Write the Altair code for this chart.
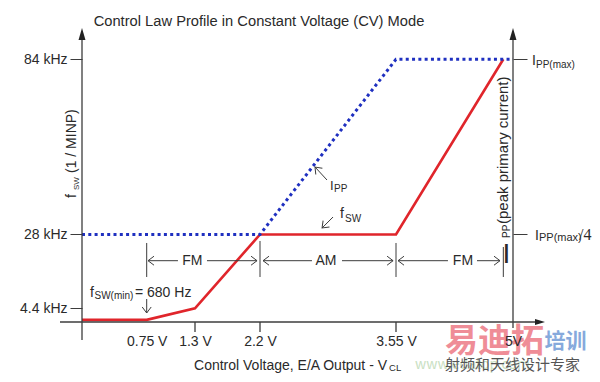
import altair as alt
import pandas as pd

# ---------------- data ----------------
volt_ticks = [0.75, 1.3, 2.2, 3.55, 5]          # V, x-axis labels
volt_tick_marks = [1.3, 2.2, 3.55]              # V, small ticks under the axis
freq_ticks = [4.4, 28, 84]                      # kHz, left axis
ipp_ticks = [28, 84]                            # right axis marks: IPP(max)/4, IPP(max)

fsw_v = [0, 0.75, 1.3, 2.2, 3.55, 4.88]         # fSW profile (red)
fsw_khz = [0.68, 0.68, 4.4, 28, 28, 84]
ipp_v = [0, 2.2, 3.55, 5]                       # IPP profile (blue dotted), frequency-equivalent units
ipp_khz = [28, 28, 84, 84]

region_names = ["FM", "AM", "FM"]
region_label_v = [1.27, 2.855, 4.38]
bracket_v = [0.75, 2.2, 3.55, 4.88]
bracket_top = [25.26, 25.9, 25.26, 23.98]
bracket_bottom = 14.39
bracket_arrow_khz = 19.6
shaft_from = [1.106, 1.466, 2.716, 3.014, 4.194, 4.554]
shaft_to = [0.765, 2.159, 2.23, 3.521, 3.575, 4.839]

# pointer arrows: (tail v, tail kHz) -> (head v, head kHz), head direction in degrees
pointer_from = [(0.75, 7.35), (2.865, 45.4), (2.925, 33.57)]
pointer_to = [(0.75, 2.88), (2.746, 49.56), (2.816, 30.05)]
pointer_angle = [90, 227, 135]

LINE = "#3c3c3c"
TXT = "#2a2a2a"
FONT = "Liberation Sans"
CJK = "Noto Sans CJK SC"

# ---------------- scales ----------------
xs = alt.Scale(domain=[0, 0.75, 1.3, 2.2, 3.55, 5], range=[0, 64.7, 113, 178, 314, 431],
               nice=False, zero=False)
ys = alt.Scale(domain=[0, 94], nice=False, zero=False)


def X(field="v"):
    return alt.X(f"{field}:Q", scale=xs)


def Y(field="f", axis=None):
    return alt.Y(f"{field}:Q", scale=ys, axis=axis)


# ---------------- profiles ----------------
red = alt.Chart(pd.DataFrame({"v": fsw_v, "f": fsw_khz})).mark_line(
    color="#e0252b", strokeWidth=2.6
).encode(
    x=alt.X("v:Q", scale=xs,
            axis=alt.Axis(values=volt_ticks, title=None, domain=False, grid=False, ticks=False,
                          labelPadding=12, labelFlush=False, labelOverlap=False, zindex=2,
                          labelExpr="datum.value == 5 ? '5V' : datum.value + ' V'")),
    y=Y(axis=alt.Axis(orient="left", values=freq_ticks, title=None, domain=False, grid=False,
                      tickSize=12, tickColor=LINE, labelPadding=3,
                      labelExpr="datum.value + ' kHz'")),
)

blue = alt.Chart(pd.DataFrame({"v": ipp_v, "f": ipp_khz})).mark_line(
    color="#1f30c0", strokeWidth=3, strokeDash=[3, 3.3]
).encode(
    x=X(),
    y=Y(axis=alt.Axis(orient="right", values=ipp_ticks, title=None, domain=False, grid=False,
                      labels=False, tickSize=14, tickColor=LINE)),
)

# ---------------- axis lines with arrow heads ----------------
axis_rows = [
    {"v": 0, "f": -5.75, "v2": 0, "f2": 90.2},
    {"v": 5, "f": -1.9, "v2": 5, "f2": 90.2},
    {"v": -0.255, "f": 0, "v2": 5.335, "f2": 0},
]
for tv in volt_tick_marks:
    axis_rows.append({"v": tv, "f": 0, "v2": tv, "f2": -3.2})
axes_rule = alt.Chart(pd.DataFrame(axis_rows)).mark_rule(color=LINE, strokeWidth=1.3).encode(
    x=X(), y=Y(), x2="v2:Q", y2="f2:Q")

axis_heads = pd.DataFrame({"v": [0, 5, 5.335], "f": [92.1, 92.1, 0],
                           "a": [270, 270, 0], "s": [144, 144, 100]})
heads_filled = alt.Chart(axis_heads).mark_point(
    shape="M1,0L-1,-0.58L-1,0.58Z", filled=True, color="#222", opacity=1, strokeWidth=0
).encode(x=X(), y=Y(), angle=alt.Angle("a:Q", scale=None), size=alt.Size("s:Q", scale=None))

# ---------------- brackets and pointers ----------------
seg_rows = []
for bv, bt in zip(bracket_v, bracket_top):
    seg_rows.append({"v": bv, "f": bracket_bottom, "v2": bv, "f2": bt})
for a, b in zip(shaft_from, shaft_to):
    seg_rows.append({"v": a, "f": bracket_arrow_khz, "v2": b, "f2": bracket_arrow_khz})
for (a, fa), (b, fb) in zip(pointer_from, pointer_to):
    seg_rows.append({"v": a, "f": fa, "v2": b, "f2": fb})
segs = alt.Chart(pd.DataFrame(seg_rows)).mark_rule(color=LINE, strokeWidth=1).encode(
    x=X(), y=Y(), x2="v2:Q", y2="f2:Q")

head_rows = []
for a, b in zip(shaft_from, shaft_to):
    head_rows.append({"v": b, "f": bracket_arrow_khz, "a": 180 if b < a else 0})
for (b, fb), ang in zip(pointer_to, pointer_angle):
    head_rows.append({"v": b, "f": fb, "a": ang})
chevrons = alt.Chart(pd.DataFrame(head_rows)).mark_point(
    shape="M-1,-0.75L0,0L-1,0.75", filled=False, color=LINE, strokeWidth=1, size=144, opacity=1
).encode(x=X(), y=Y(), angle=alt.Angle("a:Q", scale=None))


# ---------------- texts ----------------
def texts(rows, **props):
    df = pd.DataFrame(rows, columns=["t", "v", "f", "s", "a", "c"])
    return alt.Chart(df).mark_text(**props).encode(
        x=X(), y=Y(), text="t:N",
        size=alt.Size("s:Q", scale=None),
        angle=alt.Angle("a:Q", scale=None),
        color=alt.Color("c:N", scale=None),
    )


title = texts([("Control Law Profile in Constant Voltage (CV) Mode", 2.186, 94.64, 14.7, 0, TXT)],
              align="center", baseline="alphabetic", font=FONT)

region_txt = texts([(n, v, bracket_arrow_khz, 14, 0, TXT) for n, v in zip(region_names, region_label_v)],
                   align="center", baseline="middle", font=FONT)

pieces = texts([
    ("f", 0.093, 8.0, 14, 0, TXT),
    ("SW(min)", 0.145, 7.2, 10, 0, TXT),
    ("= 680 Hz", 0.614, 8.0, 14, 0, TXT),
    ("I", 2.895, 42.2, 13, 0, TXT),
    ("PP", 2.935, 41.56, 10, 0, TXT),
    ("f", 2.994, 33.25, 14, 0, TXT),
    ("SW", 3.044, 31.97, 10, 0, TXT),
    ("Control Voltage, E/A Output - V", 1.289, -15.35, 14, 0, TXT),
    ("CL", 3.481, -15.67, 9.5, 0, TXT),
    ("I", 5.235, 82.17, 14, 0, TXT),
    ("PP(max)", 5.285, 81.2, 10, 0, TXT),
    ("I", 5.273, 26.2, 14, 0, TXT),
    ("PP(max)", 5.322, 25.9, 11, 0, TXT),
    ("f", -0.0696, 39.64, 14, 270, TXT),
    ("SW", -0.035, 42.2, 8, 270, TXT),
    ("(1 / MINP)", -0.0696, 47.64, 14, 270, TXT),
    ("PP", 4.963, 26.86, 10, 270, TXT),
    ("(peak primary current)", 4.938, 31.33, 15, 270, TXT),
    ("I", 4.87, 18.86, 28, 0, TXT),
], align="left", baseline="alphabetic", font=FONT)

serif = texts([("/4", 5.818, 26.2, 16, 0, TXT)], align="left", baseline="alphabetic",
              font="Liberation Serif")

wm_bold = texts([
    ("易迪拓", 4.157, -6.4, 33, 0, "#ef8d97"),
    ("培训", 5.39, -6.4, 21, 0, "#86a9dc"),
], align="left", baseline="middle", font=CJK, fontWeight="bold")

wm_norm = texts([
    ("www.edatop.com", 3.785, -13.6, 14, 0, "#c8e0c2"),
    ("射频和天线设计专家", 4.157, -13.6, 15, 0, "#555555"),
], align="left", baseline="middle", font=CJK)

chart = alt.layer(
    red, blue, axes_rule, heads_filled, segs, chevrons,
    wm_norm, wm_bold, title, region_txt, pieces, serif,
).resolve_axis(y="independent").properties(
    width=431, height=294,
    padding={"left": 74, "top": 20, "right": 79, "bottom": 52},
    autosize=alt.AutoSizeParams(type="none"),
    background="white",
).configure_view(stroke=None).configure_axis(
    labelFont=FONT, labelFontSize=14, labelColor=TXT
)

chart.save("out.html", embed_options={"renderer": "svg", "actions": False})
